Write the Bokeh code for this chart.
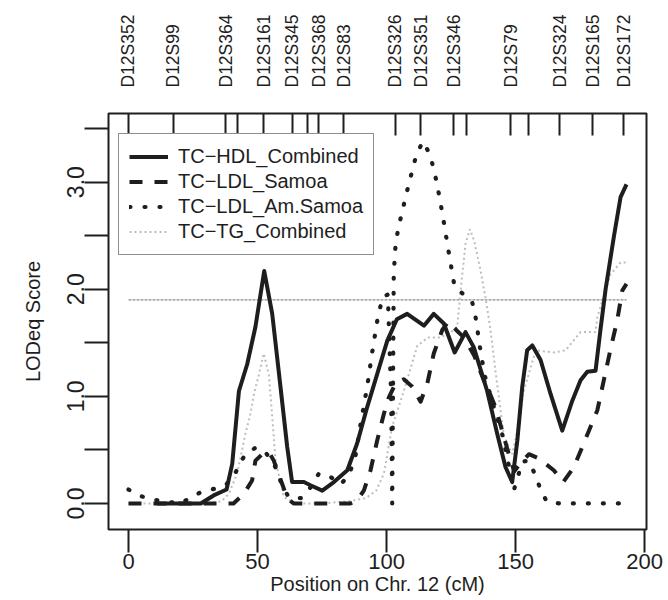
from bokeh.plotting import figure
from bokeh.models import (FixedTicker, LinearAxis, Range1d, Legend, LegendItem,
                          NumeralTickFormatter)
from bokeh.embed import file_html
from bokeh.resources import INLINE

# ---------------- data ----------------
marker_pos = [0, 17.3, 37.6, 42.1, 52.4, 63.4, 69.3, 73.8, 83.4, 103.3,
              113.2, 126.1, 131.0, 148.1, 154.9, 167.1, 180.0, 192.0]
marker_names = ["D12S352", "D12S99", "D12S364", "", "D12S161", "D12S345", "",
                "D12S368", "D12S83", "D12S326", "D12S351", "D12S346", "",
                "D12S79", "", "D12S324", "D12S165", "D12S172"]

x_ticks = [0, 50, 100, 150, 200]
y_ticks = [0, 1, 2, 3]
y_minor_ticks = [0.5, 1.5, 2.5, 3.5]
threshold = 1.9

hdl_x = [11, 28, 33, 38, 40.2, 42.8, 46, 49.2, 52.6, 55.7, 58.9, 61.5, 63.4, 68,
         70.5, 75.1, 79.6, 84.8, 88.6, 92.5, 96.4, 100.3, 104, 108, 114.5, 118.3,
         122.2, 126.4, 130.6, 133.8, 139, 142.9, 146.1, 148.7, 150.7, 152.6, 154.5,
         156.5, 159.7, 163.6, 168.1, 172, 175.2, 177.8, 181, 182.9, 184.9, 188.1,
         190.7, 193]
hdl_y = [0, 0, 0.075, 0.13, 0.37, 1.05, 1.30, 1.65, 2.17, 1.77, 1.09, 0.53, 0.20,
         0.20, 0.17, 0.12, 0.20, 0.31, 0.56, 0.90, 1.21, 1.52, 1.72, 1.77, 1.66,
         1.77, 1.68, 1.41, 1.60, 1.46, 1.05, 0.65, 0.34, 0.20, 0.59, 1.09, 1.43,
         1.475, 1.34, 1.02, 0.68, 0.96, 1.15, 1.23, 1.24, 1.62, 2.0, 2.49, 2.86, 2.98]

samoa_x = [0, 5, 11, 28, 35, 40.7, 44.7, 47.9, 49.2, 51.8, 54.4, 56.3, 59.6, 61.5,
           64, 70, 78, 86, 88.6, 91.2, 93.8, 96.4, 99, 100.9, 103.5, 106.7, 110,
           113.2, 115.8, 118.3, 121.6, 124, 127, 130, 134, 137.7, 139, 142.2, 145.5,
           147.5, 149.5, 152, 155.2, 159, 164.8, 168.5, 172.6, 177.1, 181.7, 184.2,
           186.8, 189.4, 191.4, 193]
samoa_y = [0, 0, 0, 0, 0, 0, 0.09, 0.215, 0.40, 0.46, 0.48, 0.40, 0.18, 0.05,
           0, 0, 0, 0, 0.03, 0.12, 0.31, 0.59, 0.84, 0.99, 1.12, 1.16, 1.09,
           0.95, 1.12, 1.40, 1.62, 1.70, 1.62, 1.55, 1.38, 1.15, 1.09, 0.90, 0.62,
           0.45, 0.30, 0.38, 0.46, 0.42, 0.31, 0.20, 0.34, 0.60, 0.87, 1.15,
           1.44, 1.71, 1.99, 2.05]

amsamoa_x = [0, 5.3, 11, 20, 28, 33.7, 38, 41.5, 45, 49.2, 53, 55.5, 57.6, 58.9, 62,
             67, 70.5, 73.8, 77.6, 82.2, 85.4, 88, 90, 92.5, 94.5, 96.5, 98.5, 100.5,
             101.8, 102.2, 102.8, 103.5, 104.5, 105.8, 108.6, 111.6, 114.1, 116.8,
             118.3, 119.6, 121.7, 123.6, 126.4, 130, 133.2, 134.5, 136.2, 138, 141.6,
             144.8, 147, 149.3, 150.9, 152.6, 155, 157.4, 159.4, 162, 167, 193]
amsamoa_y = [0.13, 0.065, 0.03, 0, 0.105, 0.14, 0.18, 0.29, 0.45, 0.52, 0.48, 0.40,
             0.31, 0.21, 0.06, 0.05, 0.15, 0.28, 0.26, 0.18, 0.26, 0.45, 0.75, 1.09,
             1.42, 1.72, 1.93, 1.95, 1.0, 0.0, 2.14, 2.42, 2.56, 2.70, 2.98, 3.26,
             3.38, 3.26, 3.12, 2.98, 2.70, 2.42, 2.02, 1.95, 1.88, 1.74, 1.46, 1.2,
             0.90, 0.65, 0.40, 0.12, 0.25, 0.39, 0.40, 0.28, 0.15, 0.02, 0, 0]

tg_x = [0, 10, 20, 30, 36, 38.9, 42.1, 43.4, 45.3, 47.3, 48.6, 50.5, 52.4, 54.4,
        55.7, 57, 60.2, 65, 75, 85, 92, 96, 99, 102.2, 106.7, 111.9, 116, 121, 125,
        127.4, 128.7, 130.6, 132.3, 134, 136.4, 138.5, 140.3, 142.2, 144.2, 145.5,
        148.7, 150.7, 153.2, 157.8, 161, 164.9, 169.4, 175.2, 181, 181.7, 184.9,
        186.8, 190.7, 193]
tg_y = [0, 0, 0, 0, 0.02, 0.09, 0.28, 0.43, 0.65, 0.84, 1.02, 1.2, 1.40, 1.2, 0.81,
        0.40, 0.06, 0, 0, 0.02, 0.05, 0.12, 0.28, 0.72, 1.05, 1.47, 1.55, 1.55, 1.6,
        1.65, 1.99, 2.42, 2.56, 2.45, 2.18, 1.9, 1.62, 1.24, 0.87, 0.63, 0.46, 0.68,
        1.05, 1.43, 1.42, 1.41, 1.43, 1.60, 1.60, 1.74, 1.99, 2.14, 2.25, 2.25]

series_names = ["TC\u2212HDL_Combined", "TC\u2212LDL_Samoa",
                "TC\u2212LDL_Am.Samoa", "TC\u2212TG_Combined"]

FONT = "Liberation Sans"
INK = "#1e1e1e"

# ---------------- figure ----------------
p = figure(width=668, height=600, output_backend="svg", toolbar_location=None,
           x_range=Range1d(-7.75, 200.75), y_range=Range1d(-0.243, 3.641),
           min_border_left=108, min_border_right=22, min_border_top=113,
           min_border_bottom=71)
p.xgrid.visible = False
p.ygrid.visible = False
p.outline_line_color = INK
p.outline_line_width = 2
p.background_fill_color = "white"
p.border_fill_color = "white"

# bottom axis
xa = p.xaxis[0]
xa.ticker = FixedTicker(ticks=x_ticks)
xa.axis_line_color = None
xa.major_tick_out = 23
xa.major_tick_in = 0
xa.major_tick_line_color = INK
xa.major_tick_line_width = 2
xa.minor_tick_line_color = None
xa.major_label_standoff = 1
xa.major_label_text_font = FONT
xa.major_label_text_font_size = "22px"
xa.major_label_text_color = INK
xa.axis_label = "Position on Chr. 12 (cM)"
xa.axis_label_text_font = FONT
xa.axis_label_text_font_style = "normal"
xa.axis_label_text_font_size = "20px"
xa.axis_label_text_color = INK
xa.axis_label_standoff = 1

# left axis
ya = p.yaxis[0]
ya.ticker = FixedTicker(ticks=y_ticks, minor_ticks=y_minor_ticks)
ya.formatter = NumeralTickFormatter(format="0.0")
ya.axis_line_color = None
ya.major_tick_out = 24
ya.major_tick_in = 0
ya.minor_tick_out = 24
ya.minor_tick_in = 0
ya.major_tick_line_color = INK
ya.minor_tick_line_color = INK
ya.major_tick_line_width = 2
ya.minor_tick_line_width = 2
ya.major_label_orientation = "vertical"
ya.major_label_standoff = 0
ya.major_label_text_font = FONT
ya.major_label_text_font_size = "23px"
ya.major_label_text_color = INK
ya.axis_label = "LODeq Score"
ya.axis_label_text_font = FONT
ya.axis_label_text_font_style = "normal"
ya.axis_label_text_font_size = "20px"
ya.axis_label_text_color = INK
ya.axis_label_standoff = 21

# top marker axis
overrides = {pos: name for pos, name in zip(marker_pos, marker_names)}
ta = LinearAxis(ticker=FixedTicker(ticks=marker_pos),
                major_label_overrides=overrides)
ta.axis_line_color = None
ta.major_tick_in = 22
ta.major_tick_out = 0
ta.major_tick_line_color = INK
ta.major_tick_line_width = 2
ta.minor_tick_line_color = None
ta.major_label_orientation = "vertical"
ta.major_label_standoff = 26
ta.major_label_text_font = FONT
ta.major_label_text_font_size = "17.5px"
ta.major_label_text_color = INK
p.add_layout(ta, "above")

# threshold line over the data extent
all_x = hdl_x + samoa_x + amsamoa_x + tg_x
thr_x = [min(all_x), max(all_x)]
p.line(thr_x, [threshold, threshold], line_color="#8a8a8a", line_width=1.3,
       line_dash="3 1")

# series
r_tg = p.line(tg_x, tg_y, line_color="#bdbdbd", line_width=2, line_dash="2 3")
r_am = p.line(amsamoa_x, amsamoa_y, line_color=INK, line_width=4.2,
              line_dash="1 14", line_cap="round", line_join="round")
r_sa = p.line(samoa_x, samoa_y, line_color=INK, line_width=4,
              line_dash="13 12", line_join="round")
r_hdl = p.line(hdl_x, hdl_y, line_color=INK, line_width=4, line_join="round")

legend = Legend(items=[LegendItem(label=series_names[0], renderers=[r_hdl]),
                       LegendItem(label=series_names[1], renderers=[r_sa]),
                       LegendItem(label=series_names[2], renderers=[r_am]),
                       LegendItem(label=series_names[3], renderers=[r_tg])],
                location=(10, 274), orientation="vertical")
legend.label_text_font = FONT
legend.label_text_font_size = "20px"
legend.label_text_color = INK
legend.glyph_width = 39
legend.glyph_height = 25
legend.label_height = 25
legend.label_standoff = 10
legend.padding = 10
legend.spacing = 0
legend.margin = 0
legend.border_line_color = INK
legend.border_line_width = 1.6
legend.background_fill_color = "white"
legend.background_fill_alpha = 1
p.add_layout(legend, "center")

open("out.html", "w").write(file_html(p, INLINE))
